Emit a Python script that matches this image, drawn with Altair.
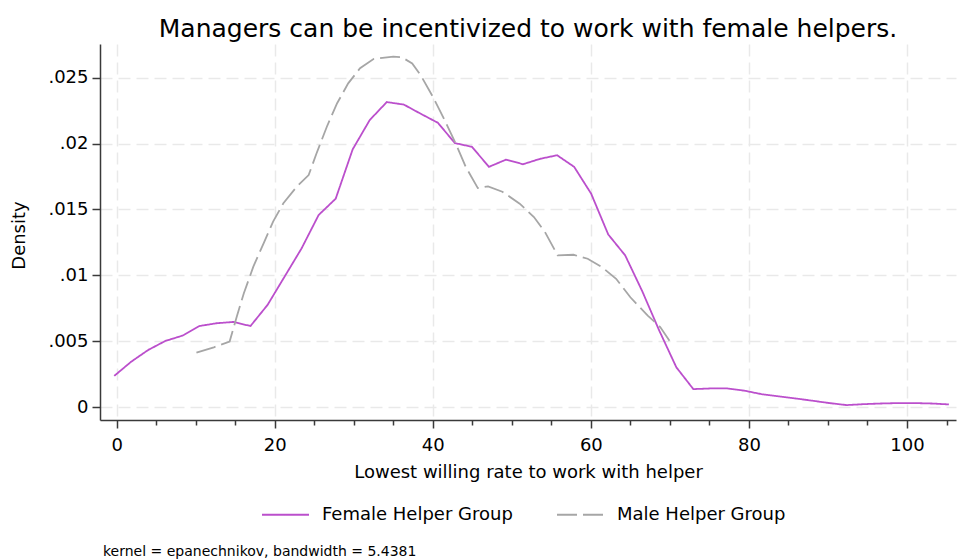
import altair as alt
import pandas as pd

# Kernel density estimates of the lowest willing rate, by helper group
female_x = [-0.3, 1.85, 4.01, 6.17, 8.32, 10.48, 12.63, 14.79, 16.94, 19.1,
            21.25, 23.41, 25.56, 27.72, 29.87, 32.03, 34.18, 36.34, 38.49, 40.65,
            42.8, 44.96, 47.11, 49.27, 51.42, 53.58, 55.73, 57.89, 60.04, 62.2,
            64.35, 66.51, 68.66, 70.82, 72.97, 75.13, 77.28, 79.44, 81.59, 83.75,
            85.9, 88.06, 90.21, 92.37, 94.52, 96.68, 98.83, 100.99, 103.14, 105.3]
female_y = [0.00239, 0.00347, 0.00436, 0.00504, 0.00544, 0.00617, 0.00638, 0.00648, 0.00617, 0.00777,
            0.00991, 0.01206, 0.01458, 0.01582, 0.01956, 0.02178, 0.02314, 0.02295, 0.02225, 0.02157,
            0.02003, 0.01975, 0.01823, 0.01878, 0.01843, 0.01884, 0.01911, 0.01823, 0.01620, 0.01311,
            0.01152, 0.00880, 0.00582, 0.00304, 0.00139, 0.00144, 0.00144, 0.00127, 0.00101, 0.00084,
            0.00068, 0.00051, 0.00033, 0.00018, 0.00025, 0.00030, 0.00033, 0.00033, 0.00030, 0.00023]

male_x = [10.1, 12.3, 14.3, 15.2, 16.1, 17.3, 18.6, 19.8, 21.1, 22.8,
          24.3, 25.3, 26.6, 27.9, 29.3, 30.8, 32.5, 34.2, 35.0, 36.1,
          37.4, 38.5, 40.1, 41.6, 42.9, 44.2, 45.7, 47.0, 48.8, 51.0,
          52.8, 54.2, 55.8, 57.8, 59.6, 61.4, 63.2, 65.0, 67.2, 68.8, 69.95]
male_y = [0.00415, 0.00456, 0.00499, 0.00688, 0.00865, 0.01067, 0.01244, 0.01408, 0.01547, 0.01673,
          0.01761, 0.01926, 0.02127, 0.02305, 0.02456, 0.02570, 0.02640, 0.02653, 0.02658, 0.02653,
          0.02607, 0.02515, 0.02345, 0.02165, 0.02000, 0.01820, 0.01662, 0.01675, 0.01635, 0.01544,
          0.01443, 0.01329, 0.01152, 0.01157, 0.01127, 0.01063, 0.00975, 0.00835, 0.00696, 0.00608, 0.00506]

groups = ["Female Helper Group", "Male Helper Group"]
x_ticks = [0, 5, 10, 15, 20, 25, 30, 35, 40, 45, 50, 55, 60, 65, 70, 75, 80, 85, 90, 95, 100, 105]
y_ticks = [0, 0.005, 0.01, 0.015, 0.02, 0.025]

title_text = "Managers can be incentivized to work with female helpers."
x_title = "Lowest willing rate to work with helper"
y_title = "Density"
note_text = "kernel = epanechnikov, bandwidth = 5.4381"

df = pd.concat([
    pd.DataFrame({"rate": female_x, "density": female_y, "group": groups[0]}),
    pd.DataFrame({"rate": male_x, "density": male_y, "group": groups[1]}),
], ignore_index=True)

FONT = "DejaVu Sans"
AXIS_COLOR = "#3a3a3a"
GRID_COLOR = "#e9e9e9"

legend = alt.Legend(
    orient="none", legendX=161, legendY=446, direction="horizontal",
    title=None, symbolType="stroke", symbolSize=2209, symbolStrokeWidth=1.8,
    labelFont=FONT, labelFontSize=18, labelColor="black", labelLimit=400,
    labelOffset=12, columnPadding=40, padding=0,
)

lines = alt.Chart(df).mark_line(strokeWidth=1.8).encode(
    x=alt.X(
        "rate:Q",
        scale=alt.Scale(domain=[-2.1, 106.2], nice=False, zero=False),
        axis=alt.Axis(
            values=x_ticks,
            title=x_title,
            labelExpr="datum.value % 20 == 0 ? datum.label : ''",
            tickSize={"condition": {"test": "datum.value % 20 == 0", "value": 8}, "value": 5},
            gridOpacity={"condition": {"test": "datum.value % 20 == 0", "value": 1}, "value": 0},
            labelPadding=8,
            titleY=57, titleBaseline="alphabetic",
        ),
    ),
    y=alt.Y(
        "density:Q",
        scale=alt.Scale(domain=[-0.00095, 0.02754], nice=False, zero=False),
        axis=alt.Axis(
            values=y_ticks,
            title=y_title,
            labelExpr="datum.value == 0 ? '0' : slice(format(datum.value, '.3~f'), 1)",
            tickSize=8,
            labelPadding=4,
            titleX=-76, titleY=191, titleBaseline="alphabetic", titleAngle=-90,
            titleAlign="center",
        ),
    ),
    color=alt.Color(
        "group:N",
        scale=alt.Scale(domain=groups, range=["#bb4fcc", "#a6a6a6"]),
        legend=legend,
    ),
    strokeDash=alt.StrokeDash(
        "group:N",
        scale=alt.Scale(domain=groups, range=[[1, 0], [20, 6]]),
        legend=legend,
    ),
)

note = alt.Chart(pd.DataFrame({"note": [note_text]})).mark_text(
    align="left", baseline="alphabetic", font=FONT, fontSize=14, color="black"
).encode(
    x=alt.value(3), y=alt.value(512), text="note:N"
)

chart = alt.layer(lines, note).properties(
    width=856,
    height=376,
    padding={"left": 100, "top": 44, "right": 1, "bottom": 140},
    autosize=alt.AutoSizeParams(type="none"),
    background="white",
    title=alt.TitleParams(
        text=title_text, font=FONT, fontSize=25, fontWeight="normal",
        color="black", anchor="middle", baseline="alphabetic", offset=10, dy=28,
    ),
).configure_view(
    stroke=None
).configure_axis(
    labelFont=FONT, labelFontSize=18, labelColor="black",
    titleFont=FONT, titleFontSize=18, titleFontWeight="normal", titleColor="black",
    domainColor=AXIS_COLOR, domainWidth=1.5,
    tickColor=AXIS_COLOR, tickWidth=1.5,
    gridColor=GRID_COLOR, gridDash=[12, 6], gridWidth=1.5,
)

chart.save("out.html", embed_options={"renderer": "svg", "actions": False})
